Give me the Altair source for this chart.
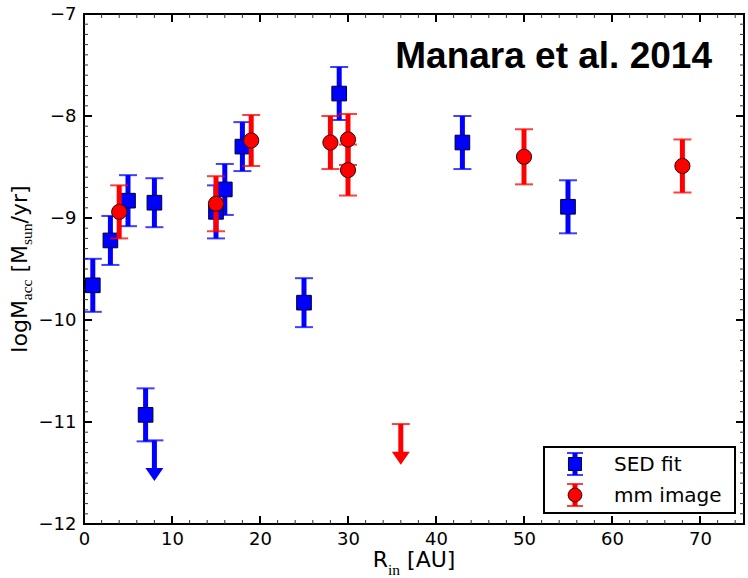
import altair as alt
import pandas as pd

# ---------------- data ----------------
sed_r = [1, 3, 5, 7, 8, 15, 16, 18, 25, 29, 43, 55]
sed_logm = [-9.66, -9.22, -8.83, -10.93, -8.85, -8.94, -8.72, -8.30, -9.83, -7.78, -8.26, -8.89]
sed_err = [0.26, 0.24, 0.25, 0.26, 0.24, 0.26, 0.25, 0.24, 0.24, 0.26, 0.26, 0.26]

mm_r = [4, 15, 19, 28, 30, 30, 50, 68]
mm_logm = [-8.94, -8.86, -8.24, -8.26, -8.23, -8.53, -8.40, -8.49]
mm_err = [0.26, 0.27, 0.25, 0.26, 0.25, 0.25, 0.27, 0.26]

# upper limits (arrows)
sed_lim_r = [8]
sed_lim_logm = [-11.18]
mm_lim_r = [36]
mm_lim_logm = [-11.02]

x_tick_labels = [0, 10, 20, 30, 40, 50, 60, 70]
y_tick_labels = [-12, -11, -10, -9, -8, -7]
x_minor = [v for v in range(2, 75, 2) if v % 10]
y_minor = [round(-12 + 0.1 * i, 1) for i in range(1, 50) if i % 10]

BLUE = "#0000ff"
RED = "#ff0000"
W, H = 660, 510
ARROW_HEAD = 0.335

xs = alt.Scale(domain=[0, 75], nice=False, zero=False)
ys = alt.Scale(domain=[-12, -7], nice=False, zero=False)
xaxis = alt.Axis(values=x_tick_labels, ticks=False, domain=False, grid=False,
                 labelFont="DejaVu Sans", labelFontSize=18, labelColor="black",
                 labelPadding=6, labelFlush=False, labelOverlap=False, title=None)
yaxis = alt.Axis(values=y_tick_labels, ticks=False, domain=False, grid=False,
                 labelFont="DejaVu Sans", labelFontSize=18, labelColor="black",
                 labelPadding=8, labelFlush=False, labelOverlap=False, title=None)


def X(f):
    return alt.X(f, type="quantitative", scale=xs, axis=xaxis)


def Y(f):
    return alt.Y(f, type="quantitative", scale=ys, axis=yaxis)


one = pd.DataFrame({"k": [0]})

# ---------------- ticks (inward, all four sides) ----------------
xmaj = pd.DataFrame({"v": x_tick_labels})
xmin = pd.DataFrame({"v": x_minor})
ymaj = pd.DataFrame({"v": y_tick_labels})
ymin = pd.DataFrame({"v": y_minor})

tick_layers = []
for df, ln, col, sw in [(xmaj, 8, "black", 2), (xmin, 4, "#333333", 1)]:
    tick_layers.append(alt.Chart(df).mark_rule(color=col, strokeWidth=sw).encode(
        x=X("v"), y=alt.value(H), y2=alt.value(H - ln)))
    tick_layers.append(alt.Chart(df).mark_rule(color=col, strokeWidth=sw).encode(
        x=X("v"), y=alt.value(0), y2=alt.value(ln)))
for df, ln, col, sw in [(ymaj, 8, "black", 2), (ymin, 4, "#333333", 1)]:
    tick_layers.append(alt.Chart(df).mark_rule(color=col, strokeWidth=sw).encode(
        y=Y("v"), x=alt.value(0), x2=alt.value(ln)))
    tick_layers.append(alt.Chart(df).mark_rule(color=col, strokeWidth=sw).encode(
        y=Y("v"), x=alt.value(W), x2=alt.value(W - ln)))


# ---------------- series ----------------
def series(r, m, e, color, shape, size, edge):
    df = pd.DataFrame({"r": r, "m": m, "e": e})
    base = alt.Chart(df).transform_calculate(lo="datum.m - datum.e", hi="datum.m + datum.e")
    bars = base.mark_rule(color=color, strokeWidth=5).encode(x=X("r"), y=Y("lo"), y2="hi")
    cap_lo = base.mark_tick(color=color, orient="horizontal", size=18, thickness=2,
                            opacity=0.75).encode(x=X("r"), y=Y("lo"))
    cap_hi = base.mark_tick(color=color, orient="horizontal", size=18, thickness=2,
                            opacity=0.75).encode(x=X("r"), y=Y("hi"))
    pts = base.mark_point(shape=shape, filled=True, size=size, color=color, opacity=1,
                          stroke=edge, strokeWidth=1).encode(x=X("r"), y=Y("m"))
    return [bars, cap_lo, cap_hi], [pts]


def limits(r, m, color):
    df = pd.DataFrame({"r": r, "m": m})
    base = alt.Chart(df).transform_calculate(head=f"datum.m - {ARROW_HEAD}")
    shaft = base.mark_rule(color=color, strokeWidth=5).encode(x=X("r"), y=Y("m"), y2="head")
    cap = base.mark_tick(color=color, orient="horizontal", size=18, thickness=2,
                         opacity=0.75).encode(x=X("r"), y=Y("m"))
    head = base.mark_point(shape="M-1,-0.72L1,-0.72L0,0.72Z", filled=True, size=324,
                           color=color, opacity=1, strokeWidth=0).encode(x=X("r"), y=Y("head"))
    return [shaft, cap, head]


sed_bars, sed_pts = series(sed_r, sed_logm, sed_err, BLUE, "square", 215, "#000033")
mm_bars, mm_pts = series(mm_r, mm_logm, mm_err, RED, "circle", 230, "#330000")
sed_lim = limits(sed_lim_r, sed_lim_logm, BLUE)
mm_lim = limits(mm_lim_r, mm_lim_logm, RED)

# ---------------- texts ----------------
title = alt.Chart(one).mark_text(text="Manara et al. 2014", align="right", baseline="alphabetic",
                                 font="Liberation Sans", fontSize=37, fontWeight="bold",
                                 color="black").encode(x=alt.value(628), y=alt.value(54))

SANS = "DejaVu Sans"
SERIF = "Liberation Serif"
# y label pieces: text, font, size, shift, advance, gap before
ypieces = [("logM", SANS, 22, 0, 52.5, 0), ("acc", SERIF, 15.5, 5, 20.6, 0),
           ("[M", SANS, 22, 0, 27.6, 7), ("sun", SERIF, 15.5, 5, 21.5, 0),
           ("/yr]", SANS, 22, 0, 38.1, 0)]
ylab_total = sum(p[4] + p[5] for p in ypieces)
ylab_layers = []
pos = H / 2 + ylab_total / 2
for txt, fnt, fs, shift, adv, gap in ypieces:
    pos -= gap
    ylab_layers.append(alt.Chart(one).mark_text(text=txt, font=fnt, fontSize=fs, angle=270,
                                                align="left", baseline="alphabetic",
                                                color="black").encode(
        x=alt.value(-57 + shift), y=alt.value(pos)))
    pos -= adv

xpieces = [("R", SANS, 22, 0, 15.3, 0), ("in", SERIF, 15.5, 8, 12.1, 0),
           ("[AU]", SANS, 22, 0, 48.3, 7)]
xlab_total = sum(p[4] + p[5] for p in xpieces)
xlab_layers = []
pos = W / 2 - xlab_total / 2
for txt, fnt, fs, shift, adv, gap in xpieces:
    pos += gap
    xlab_layers.append(alt.Chart(one).mark_text(text=txt, font=fnt, fontSize=fs,
                                                align="left", baseline="alphabetic",
                                                color="black").encode(
        x=alt.value(pos), y=alt.value(553 + shift)))
    pos += adv

# ---------------- legend ----------------
leg_box = alt.Chart(one).mark_rect(fill="white", stroke="black", strokeWidth=2).encode(
    x=alt.value(460), x2=alt.value(651), y=alt.value(433), y2=alt.value(499))
leg = [leg_box]
for (label, color, shape, size, edge, yc) in [("SED fit", BLUE, "square", 170, "#000033", 450),
                                              ("mm image", RED, "circle", 190, "#330000", 481)]:
    leg.append(alt.Chart(one).mark_rule(color=color, strokeWidth=5).encode(
        x=alt.value(491), y=alt.value(yc - 11), y2=alt.value(yc + 11)))
    for cy in (yc - 11, yc + 11):
        leg.append(alt.Chart(one).mark_rule(color=color, strokeWidth=2, opacity=0.75).encode(
            x=alt.value(483), x2=alt.value(499), y=alt.value(cy)))
    leg.append(alt.Chart(one).mark_point(shape=shape, filled=True, size=size, color=color,
                                         opacity=1, stroke=edge, strokeWidth=1).encode(
        x=alt.value(491), y=alt.value(yc)))
    leg.append(alt.Chart(one).mark_text(text=label, font=SANS, fontSize=20, align="left",
                                        baseline="alphabetic", color="black").encode(
        x=alt.value(530), y=alt.value(yc + 7)))

chart = alt.layer(
    *tick_layers, *sed_bars, *sed_lim, *sed_pts, *mm_bars, *mm_lim, *mm_pts,
    title, *ylab_layers, *xlab_layers, *leg
).properties(
    width=W, height=H,
    padding={"left": 84, "top": 14, "right": 4, "bottom": 54},
    autosize=alt.AutoSizeParams(type="none"),
    background="white",
).configure_view(stroke="black", strokeWidth=2)

chart.save("out.html", embed_options={"renderer": "svg", "actions": False})
